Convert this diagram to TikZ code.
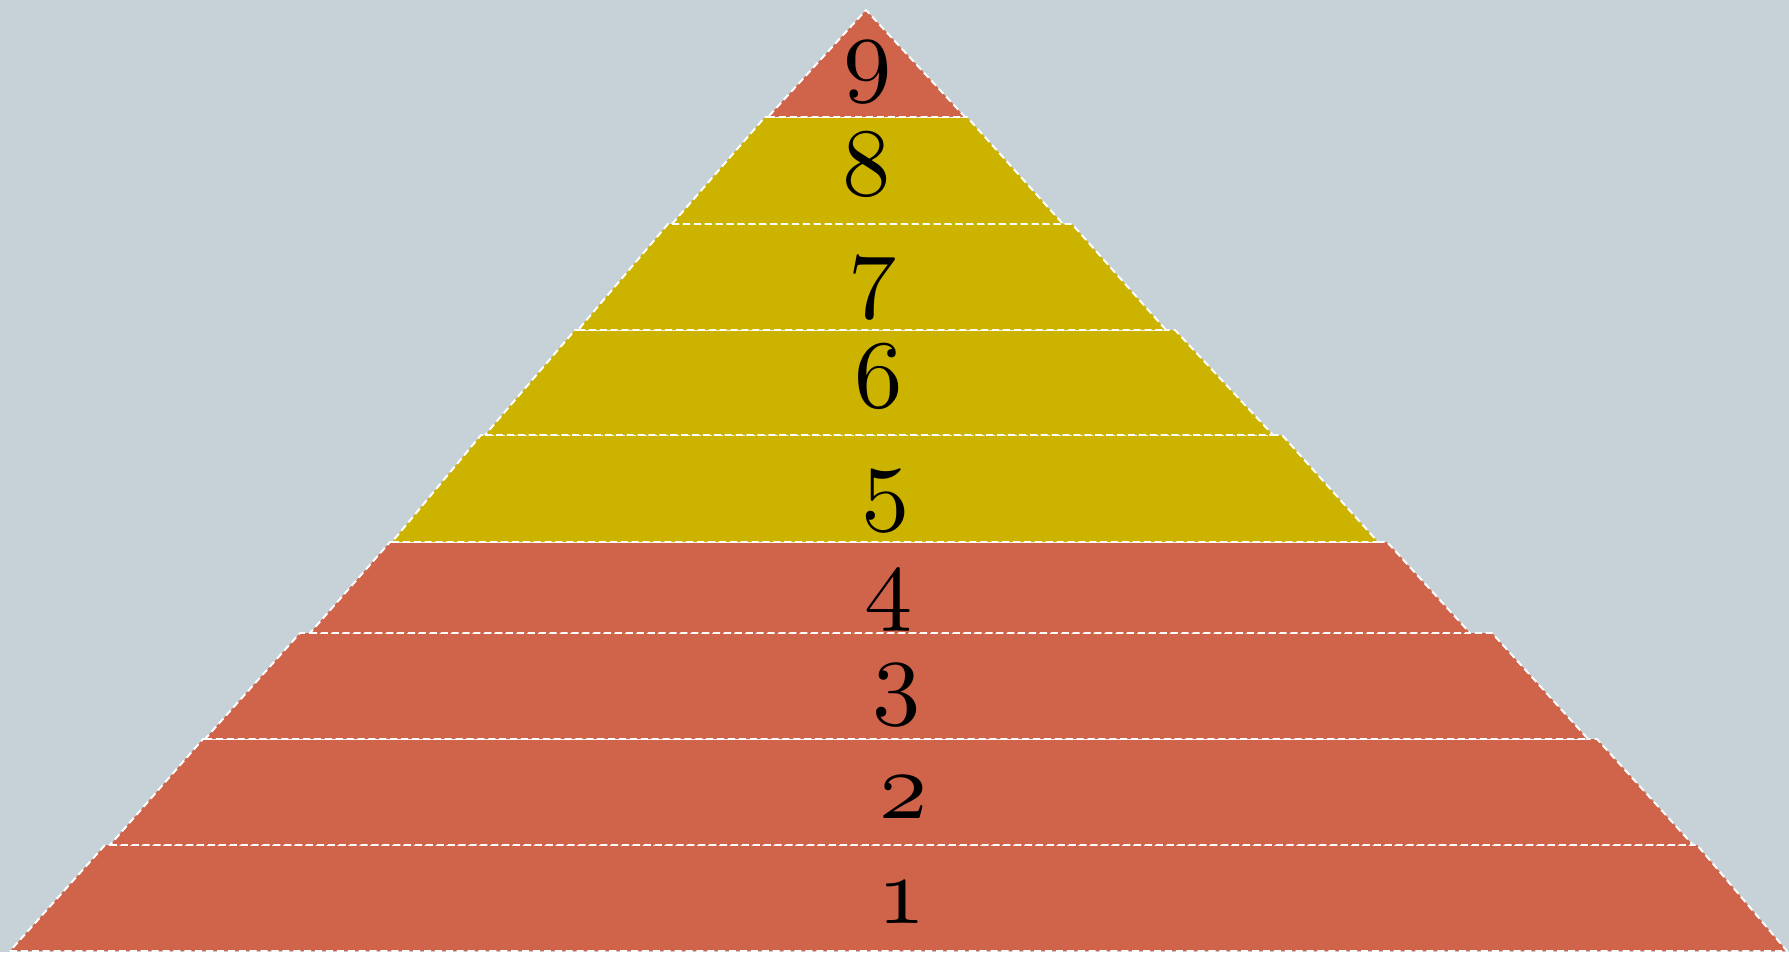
\documentclass[tikz,border=0pt]{standalone}
\usepackage{tikz}
\definecolor{pyrbg}{RGB}{198,210,216}
\definecolor{pyrred}{RGB}{208,100,74}
\definecolor{pyrgold}{RGB}{204,179,0}
\font\pyrfont=cmmi10 at 27.5pt
\newcommand\pyrnum[1]{{\pyrfont #1}}

\begin{document}
\begin{tikzpicture}[x=0.1mm,y=-0.1mm,
 layer/.style={draw=white,line width=0.55pt,dash pattern=on 2pt off 1.1pt,line join=round},
 lbl/.style={anchor=base,inner sep=0pt}]
 \useasboundingbox (0,0) rectangle (1789,952);
 \fill[pyrbg] (0,0) rectangle (1789,952);

 % layers, bottom to top
 \filldraw[layer,fill=pyrred] (10,951)--(1787,951)--(1697,845)--(105,845)--cycle;
 \filldraw[layer,fill=pyrred] (110,845)--(1693,845)--(1597,739)--(203,739)--cycle;
 \filldraw[layer,fill=pyrred] (205,739)--(1588,739)--(1492,633)--(300,633)--cycle;
 \filldraw[layer,fill=pyrred] (310,633)--(1470,633)--(1387,542)--(390,542)--cycle;
 \filldraw[layer,fill=pyrgold] (392,542)--(1378,542)--(1282,435)--(481,435)--cycle;
 \filldraw[layer,fill=pyrgold] (485,435)--(1273,435)--(1175,330)--(575,330)--cycle;
 \filldraw[layer,fill=pyrgold] (578,330)--(1166,330)--(1072,224)--(668,224)--cycle;
 \filldraw[layer,fill=pyrgold] (672,224)--(1063,224)--(967,117)--(765,117)--cycle;
 \filldraw[layer,fill=pyrred] (768,117)--(965,117)--(866,10)--cycle;

 \node[lbl] (n1) at (902,923) {\pyrnum{1}};
 \node[lbl] (n2) at (904,818) {\pyrnum{2}};
 \node[lbl] (n3) at (897,706) {\pyrnum{3}};
 \node[lbl] (n4) at (889,612) {\pyrnum{4}};
 \node[lbl] (n5) at (886,512) {\pyrnum{5}};
 \node[lbl] (n6) at (879,407) {\pyrnum{6}};
 \node[lbl] (n7) at (873,299) {\pyrnum{7}};
 \node[lbl] (n8) at (867,196) {\pyrnum{8}};
 \node[lbl] (n9) at (868,84) {\pyrnum{9}};
\end{tikzpicture}
\end{document}
